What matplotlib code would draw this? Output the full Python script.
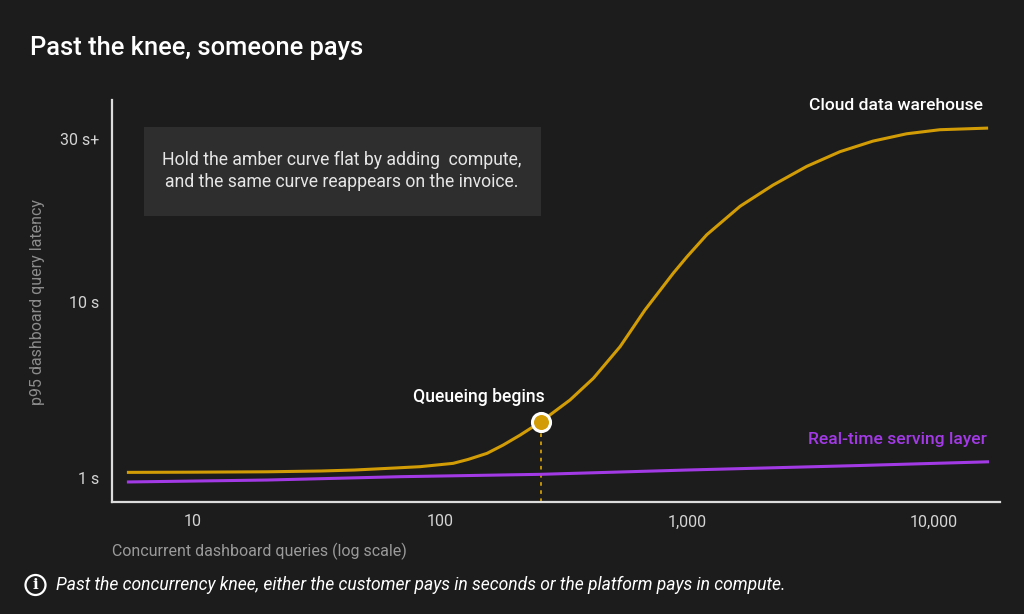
import numpy as np
import matplotlib
matplotlib.use("Agg")
import matplotlib.pyplot as plt
from matplotlib.patches import Rectangle, Circle

# --- données ---
cdw_x = [5.4, 10, 20, 33, 45, 65, 83, 113, 130, 155, 180, 211, 256, 336, 418, 536, 676, 881,
         1000, 1202, 1641, 2230, 3054, 4161, 5660, 7748, 10570, 16560]
cdw_y = [1.29, 1.30, 1.32, 1.36, 1.41, 1.51, 1.58, 1.75, 1.95, 2.26, 2.68, 3.19, 3.87, 4.98, 6.09, 7.70, 9.57, 13.5,
         15.5, 18.2, 21.7, 24.3, 26.6, 28.4, 29.7, 30.6, 31.1, 31.3]
rt_x = [5.4, 20, 69, 254, 1000, 5000, 16700]
rt_y = [0.80, 0.90, 1.07, 1.19, 1.41, 1.64, 1.83]
knee_x, knee_y = 256, 3.87
ytick_vals = [1, 10, 30]
ytick_labels = ["1 s", "10 s", "30 s+"]
xtick_vals = [10, 100, 1000, 10000]
xtick_labels = ["10", "100", "1,000", "10,000"]

BG = "#1c1c1c"
AMBER = "#d29c06"
PURPLE = "#a23ae6"
plt.rcParams["font.family"] = ["Roboto", "DejaVu Sans"]

# axe Y compressé au-dessus de 10 s
K = 0.415
def fwd(v):
    v = np.asarray(v, dtype=float)
    return np.where(v <= 10, v, 10 + (v - 10) * K)
def inv(u):
    u = np.asarray(u, dtype=float)
    return np.where(u <= 10, u, 10 + (u - 10) / K)

fig = plt.figure(figsize=(10.24, 6.14), dpi=100, facecolor=BG)
ax = fig.add_axes([112 / 1024, (614 - 502) / 614, (1000 - 112) / 1024, 402 / 614])
ax.set_facecolor(BG)
ax.set_xscale("log")
ax.set_yscale("function", functions=(fwd, inv))
ax.set_xlim(4.7, 18500)
ax.set_ylim(-0.22, 34.75)

ax.plot(cdw_x, cdw_y, color=AMBER, lw=2.2, solid_capstyle="butt", solid_joinstyle="round", zorder=3)
ax.plot(rt_x, rt_y, color=PURPLE, lw=2.2, solid_capstyle="butt", zorder=3)

# point du genou
ax.plot([knee_x, knee_x], [-0.22, knee_y], color=AMBER, lw=1.3, ls=(0, (2, 2.5)), zorder=2)
ax.plot([knee_x], [knee_y], "o", ms=13, mfc=AMBER, mec="white", mew=2.2, zorder=5)
ax.annotate("Queueing begins", (knee_x, knee_y), xytext=(-62, 25), textcoords="offset pixels",
            ha="center", va="center", color="white", fontsize=12.7, fontweight="medium")

ax.text(cdw_x[-1] * 0.95, 34.1, "Cloud data warehouse", ha="right", va="center",
        color="white", fontsize=12.6, fontweight="medium", clip_on=False)
ax.text(16400, 2.99, "Real-time serving layer", ha="right", va="center",
        color=PURPLE, fontsize=12.6, fontweight="medium")

for s in ["top", "right"]:
    ax.spines[s].set_visible(False)
for s in ["left", "bottom"]:
    ax.spines[s].set_color("#dcdcdc")
    ax.spines[s].set_linewidth(1.6)

ax.set_yticks(ytick_vals)
ax.set_yticklabels(ytick_labels)
ax.set_xticks(xtick_vals)
ax.set_xticklabels(xtick_labels)
ax.minorticks_off()
ax.tick_params(axis="both", length=0, colors="#d4d4d4", labelsize=11.5)
ax.tick_params(axis="y", pad=9)
ax.tick_params(axis="x", pad=9)

# encadré
fig.patches.append(Rectangle((144 / 1024, (614 - 216) / 614), 397 / 1024, 89 / 614,
                             transform=fig.transFigure, facecolor="#2e2e2e", edgecolor="none", zorder=1))
fig.text(342 / 1024, (614 - 171) / 614,
         "Hold the amber curve flat by adding  compute,\nand the same curve reappears on the invoice.",
         ha="center", va="center", color="#e6e6e6", fontsize=12.7, linespacing=1.35)

# titres et notes
fig.text(30 / 1024, (614 - 48) / 614, "Past the knee, someone pays", ha="left", va="center",
         color="white", fontsize=18.4, fontweight="medium")
fig.text(38 / 1024, (614 - 302) / 614, "p95 dashboard query latency", rotation=90,
         ha="center", va="center", color="#8c8c8c", fontsize=11.5)
fig.text(112 / 1024, (614 - 551) / 614, "Concurrent dashboard queries (log scale)", ha="left",
         va="center", color="#9a9a9a", fontsize=11.5)

fig.patches.append(Circle((0.355, (614 - 585) / 100), 0.10, transform=fig.dpi_scale_trans,
                          facecolor="none", edgecolor="white", lw=1.6))
fig.text(35.5 / 1024, (614 - 585) / 614, "i", ha="center", va="center", color="white",
         fontsize=11, fontweight="bold", family="DejaVu Serif")
fig.text(56 / 1024, (614 - 585) / 614,
         "Past the concurrency knee, either the customer pays in seconds or the platform pays in compute.",
         ha="left", va="center", color="white", fontsize=12.65, style="italic")

fig.savefig("out.png", dpi=100, facecolor=BG)
